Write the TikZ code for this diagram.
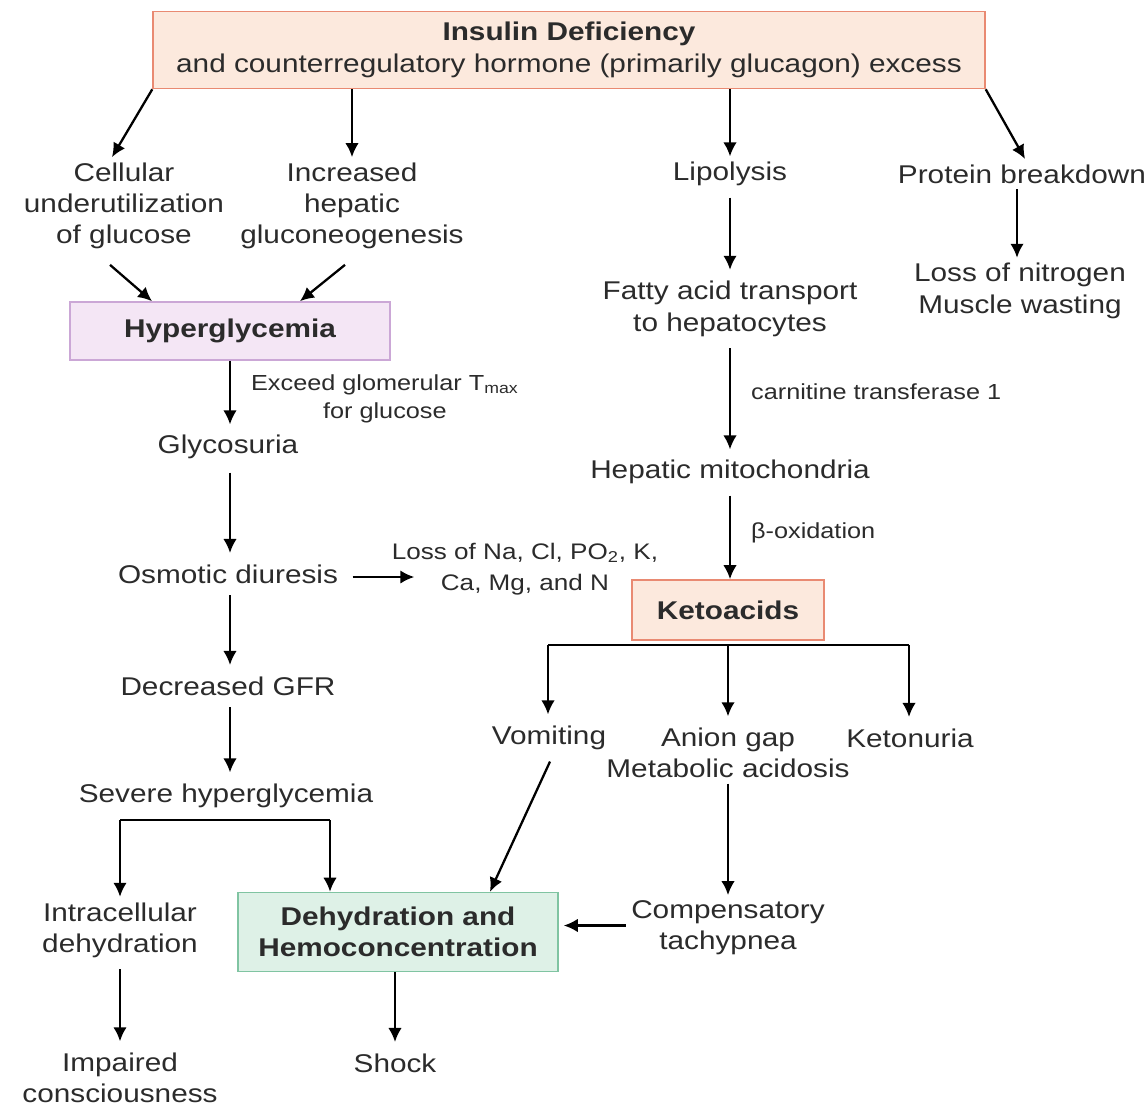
\documentclass[tikz,border=0pt]{standalone}
\usepackage{fontspec}
\setmainfont{Liberation Sans}[FakeStretch=1.16]
\usetikzlibrary{arrows.meta,positioning}

\definecolor{peachfill}{HTML}{FCE9DD}
\definecolor{peachline}{HTML}{E98A72}
\definecolor{lilacfill}{HTML}{F4E6F5}
\definecolor{lilacline}{HTML}{CBA7D6}
\definecolor{mintfill}{HTML}{DEF1E7}
\definecolor{mintline}{HTML}{80C4A2}
\definecolor{inkgray}{HTML}{2B2B2B}

\begin{document}
\begin{tikzpicture}[x=0.02cm,y=-0.02cm,>={Latex[length=0.28cm,width=0.27cm]},
 txt/.style={align=center,inner sep=3pt,text=inkgray,font=\fontsize{14.6}{17.8}\selectfont},
 lbl/.style={align=center,inner sep=0pt,text=inkgray,font=\fontsize{12.4}{15.9}\selectfont},
 peachbox/.style={draw=peachline,fill=peachfill,line width=0.9pt,align=center,text=inkgray,font=\fontsize{14.6}{17.8}\selectfont},
 lilacbox/.style={draw=lilacline,fill=lilacfill,line width=0.9pt,align=center,text=inkgray,font=\bfseries\fontsize{14.6}{17.8}\selectfont},
 mintbox/.style={draw=mintline,fill=mintfill,line width=0.9pt,align=center,text=inkgray,font=\bfseries\fontsize{14.6}{17.8}\selectfont},
 arr/.style={->,line width=1.3pt},
 bar/.style={line width=1.3pt}]
\useasboundingbox (0,0) rectangle (1145,1108);
% top
\node[peachbox,minimum width=16.64cm,minimum height=1.54cm] (insulin) at (569,50) {\textbf{Insulin Deficiency}\\and counterregulatory hormone (primarily glucagon) excess};
\node[txt] (cellular) at (124,206) {Cellular\\underutilization\\of glucose};
\node[txt] (hepgluc) at (352,206) {Increased\\hepatic\\gluconeogenesis};
\node[txt] (lipo) at (730,174) {Lipolysis};
\node[txt] (protein) at (1022,174) {Protein breakdown};
\node[txt] (nitrogen) at (1020,291) {Loss of nitrogen\\Muscle wasting};
\draw[arr] (insulin.south west) -- ([xshift=-0.24cm]cellular.north);
\draw[arr] (insulin.south -| hepgluc) -- (hepgluc.north);
\draw[arr] (insulin.south -| lipo) -- (lipo.north);
\draw[arr] (insulin.south east) -- ([xshift=0.06cm]protein.north);
\draw[arr] ([xshift=-0.1cm]protein.south) -- ([xshift=-0.1cm]protein.south |- nitrogen.north);
% glucose side
\node[lilacbox,minimum width=6.4cm,minimum height=1.16cm] (hyper) at (230,331) {Hyperglycemia};
\draw[arr] ([xshift=-0.28cm,yshift=-0.2cm]cellular.south) -- ([xshift=-1.56cm]hyper.north);
\draw[arr] ([xshift=-0.14cm,yshift=-0.2cm]hepgluc.south) -- ([xshift=1.4cm]hyper.north);
\node[txt] (glyco) at (228,447) {Glycosuria};
\draw[arr] (hyper.south) -- node[lbl,right=0.4cm,pos=0.6]{Exceed glomerular T\textsubscript{max}\\for glucose} ([yshift=0.1cm]hyper.south |- glyco.north);
\node[txt] (osmotic) at (228,574) {Osmotic diuresis};
\node[txt,font=\fontsize{12.8}{18}\selectfont] (electro) at (525,569) {Loss of Na, Cl, PO\textsubscript{2}, K,\\Ca, Mg, and N};
\node[txt] (gfr) at (228,686) {Decreased GFR};
\node[txt] (severe) at (226,796) {Severe hyperglycemia};
\draw[arr] ([yshift=-0.16cm]hyper.south |- glyco.south) -- ([yshift=0.12cm]hyper.south |- osmotic.north);
\draw[arr] ([xshift=0.18cm,yshift=-0.06cm]osmotic.east) -- ([xshift=0.56cm,yshift=-0.06cm]electro.west |- osmotic.east);
\draw[arr] ([yshift=-0.12cm]hyper.south |- osmotic.south) -- ([yshift=0.12cm]hyper.south |- gfr.north);
\draw[arr] ([yshift=-0.12cm]hyper.south |- gfr.south) -- ([yshift=0.12cm]hyper.south |- severe.north);
\node[txt] (intra) at (120,930) {Intracellular\\dehydration};
\node[mintbox,minimum width=6.4cm,minimum height=1.58cm] (dehyd) at (398,932) {Dehydration and\\Hemoconcentration};
\coordinate (sevL) at (120,820);
\coordinate (sevR) at (330,820);
\draw[bar] (sevL) -- (sevR);
\draw[arr] (sevL) -- (sevL |- intra.north);
\draw[arr] (sevR) -- (sevR |- dehyd.north);
\node[txt] (impaired) at (120,1078) {Impaired\\consciousness};
\node[txt] (shock) at (395,1063) {Shock};
\draw[arr] ([yshift=-0.12cm]intra.south) -- ([yshift=0.12cm]impaired.north);
\draw[arr] (dehyd.south -| shock) -- ([yshift=0.12cm]shock.north);
% fat side
\node[txt] (fatty) at (730,309) {Fatty acid transport\\to hepatocytes};
\node[txt] (mito) at (730,472) {Hepatic mitochondria};
\node[peachbox,font=\bfseries\fontsize{14.6}{17.8}\selectfont,minimum width=3.84cm,minimum height=1.2cm] (keto) at (728,610) {Ketoacids};
\draw[arr] ([yshift=-0.12cm]lipo.south) -- ([yshift=0.12cm]fatty.north);
\draw[arr] ([yshift=-0.12cm]fatty.south) -- node[lbl,right=0.4cm,pos=0.43]{carnitine transferase 1} ([yshift=0.1cm]mito.north);
\draw[arr] ([yshift=-0.12cm]mito.south) -- node[lbl,right=0.4cm,pos=0.45]{β-oxidation} (mito.south |- keto.north);
\node[txt] (vomit) at (549,738) {Vomiting};
\node[txt] (anion) at (728,753) {Anion gap\\Metabolic acidosis};
\node[txt] (ketonuria) at (910,738) {Ketonuria};
\coordinate (ketL) at (548,645);
\coordinate (ketR) at (909,645);
\draw[bar] (ketL) -- (ketR);
\draw[arr] (ketL) -- ([yshift=0.12cm]ketL |- vomit.north);
\draw[arr] (ketL -| keto) -- ([yshift=0.12cm]keto |- anion.north);
\draw[arr] (ketR) -- ([yshift=0.12cm]ketR |- ketonuria.north);
\node[txt] (tachy) at (728,928) {Compensatory\\tachypnea};
\draw[arr] (anion.south) -- (tachy.north);
\draw[arr] ([xshift=0.02cm,yshift=-0.12cm]vomit.south) -- ([xshift=1.84cm]dehyd.north);
\draw[arr] ([yshift=0.05cm]tachy.west) -- ([xshift=0.1cm,yshift=0.05cm]dehyd.east |- tachy.west);
\end{tikzpicture}
\end{document}
